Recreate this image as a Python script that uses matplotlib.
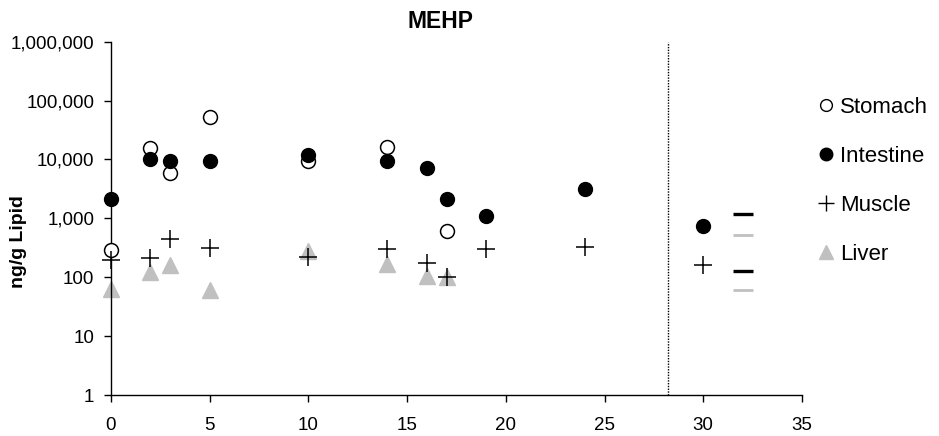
import matplotlib
matplotlib.use('Agg')
import matplotlib.pyplot as plt
from matplotlib.lines import Line2D

plt.rcParams['font.family'] = ['Liberation Sans', 'DejaVu Sans']

# MEHP concentrations (ng/g lipid) by day
stomach_x = [0, 2, 3, 5, 10, 14, 17]
stomach_y = [290, 15400, 5900, 53000, 9400, 16000, 616]

intestine_x = [0, 2, 3, 5, 10, 14, 16, 17, 19, 24, 30]
intestine_y = [2100, 10000, 9500, 9500, 11900, 9500, 7240, 2100, 1110, 3100, 750]

muscle_x = [0, 2, 3, 5, 10, 14, 16, 17, 19, 24, 30]
muscle_y = [196, 210, 440, 310, 223, 298, 172, 102, 298, 322, 161]

liver_x = [0, 2, 3, 5, 10, 14, 16, 17]
liver_y = [62, 124, 161, 61, 282, 168, 106, 100]

# reference levels drawn as short dashes right of the last sampling day
ref_x = [32, 32]
ref_dark = [1170, 127]
ref_light = [520, 61]

cutoff_day = 28.2
yticks = [1, 10, 100, 1000, 10000, 100000, 1000000]
grey = '#C0C0C0'

fig = plt.figure(figsize=(9.39, 4.36), dpi=100)
ax = fig.add_axes([0.1182, 0.094, 0.7358, 0.8104])

ax.plot(stomach_x, stomach_y, 'o', ms=10, mfc='white', mec='black', mew=1.1,
        clip_on=False, zorder=3)
ax.plot(intestine_x, intestine_y, 'o', ms=10, mfc='black', mec='black',
        clip_on=False, zorder=4)
ax.plot(muscle_x, muscle_y, '+', ms=13, mec='black', mew=1.1,
        clip_on=False, zorder=5)
ax.plot(liver_x, liver_y, '^', ms=11, mfc=grey, mec=grey,
        clip_on=False, zorder=2)

ax.plot(ref_x, ref_dark, '_', ms=15, mec='black', mew=2.4, zorder=3)
ax.plot(ref_x, ref_light, '_', ms=15, mec=grey, mew=2.0, zorder=3)

ax.axvline(cutoff_day, color='black', lw=1, ls=(0, (1, 1)))

ax.set_yscale('log')
ax.set_ylim(1, 1000000)
ax.set_xlim(0, 35)
ax.set_yticks(yticks)
ax.set_yticklabels([f'{v:,}' for v in yticks])
ax.minorticks_off()
ax.set_xticks(range(0, 36, 5))

for side in ['top', 'right']:
    ax.spines[side].set_visible(False)
for side in ['left', 'bottom']:
    ax.spines[side].set_linewidth(1)

ax.tick_params(axis='y', direction='out', length=5, width=1, pad=7, labelsize=13.5)
ax.tick_params(axis='x', direction='out', length=5, width=1, pad=11, labelsize=13.5)

fig.text(0.02, 0.447, 'ng/g Lipid', rotation=90, ha='center', va='center',
         fontsize=14, fontweight='bold')
fig.text(0.469, 0.95, 'MEHP', ha='center', va='center', fontsize=16.5, fontweight='bold')

handles = [
    Line2D([], [], ls='none', marker='o', ms=8.5, mfc='white', mec='black', mew=1),
    Line2D([], [], ls='none', marker='o', ms=9, mfc='black', mec='black'),
    Line2D([], [], ls='none', marker='+', ms=12, mec='black', mew=1),
    Line2D([], [], ls='none', marker='^', ms=10, mfc=grey, mec=grey),
]
labels = ['Stomach', 'Intestine', 'Muscle', 'Liver']
fig.legend(handles, labels, loc='upper left', bbox_to_anchor=(0.873, 0.778),
           frameon=False, fontsize=16, handlelength=0.6, handletextpad=0.3,
           labelspacing=1.26, borderpad=0, borderaxespad=0)

fig.savefig('out.png', dpi=100)
